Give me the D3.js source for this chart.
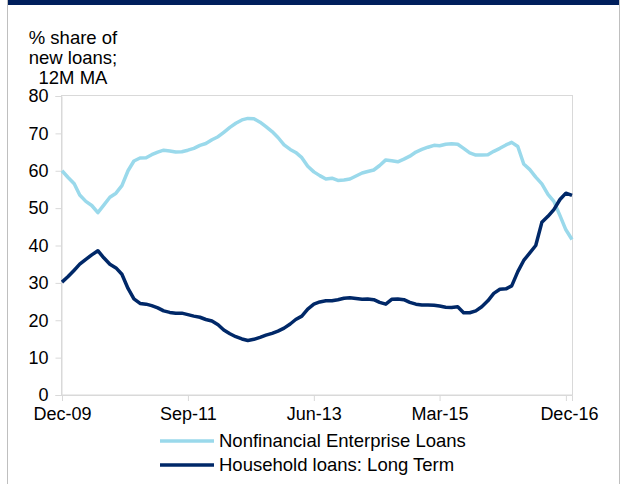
<!DOCTYPE html>
<html>
<head>
<meta charset="utf-8">
<script src="https://cdn.jsdelivr.net/npm/d3@7"></script>
<style>
  body { margin: 0; background: #fff; }
  svg text { font-family: "Liberation Sans", Arial, sans-serif; fill: #000; }
</style>
</head>
<body>
<svg id="chart" width="621" height="484"></svg>
<script>
// monthly, Dec-09 .. Jan-17
var startMonth = new Date(2009, 11, 1);
var nfeLoans = [60.0, 58.2, 56.5, 53.5, 51.8, 50.7, 48.8, 50.8, 52.9, 54.0,
  56.0, 60.0, 62.6, 63.4, 63.5, 64.3, 65.0, 65.5, 65.3, 65.0,
  65.1, 65.5, 66.0, 66.8, 67.3, 68.3, 69.1, 70.3, 71.6, 72.7,
  73.6, 74.0, 73.9, 73.0, 71.8, 70.5, 68.9, 66.9, 65.7, 64.9,
  63.5, 61.2, 59.7, 58.7, 57.8, 58.0, 57.4, 57.5, 57.8, 58.6,
  59.4, 59.8, 60.2, 61.4, 62.9, 62.7, 62.4, 63.1, 63.9, 65.0,
  65.7, 66.3, 66.8, 66.7, 67.1, 67.2, 67.1, 66.0, 64.8, 64.2,
  64.2, 64.3, 65.2, 66.0, 66.9, 67.6, 66.5, 61.8, 60.3, 58.3,
  56.5, 53.7, 51.8, 48.0, 44.2, 41.6];
var householdLT = [30.2, 31.7, 33.4, 35.0, 36.3, 37.5, 38.6, 36.7, 35.0, 34.0,
  32.3, 28.5, 25.7, 24.5, 24.3, 23.9, 23.3, 22.5, 22.1, 21.9,
  21.9, 21.5, 21.1, 20.8, 20.2, 19.8, 18.8, 17.4, 16.4, 15.6,
  15.0, 14.6, 14.9, 15.4, 16.0, 16.5, 17.1, 17.9, 19.0, 20.2,
  21.1, 23.0, 24.3, 24.9, 25.2, 25.2, 25.5, 25.9, 26.0, 25.8,
  25.6, 25.7, 25.5, 24.8, 24.3, 25.6, 25.7, 25.5, 24.8, 24.3,
  24.1, 24.1, 24.0, 23.8, 23.5, 23.4, 23.6, 22.0, 22.0, 22.5,
  23.6, 25.2, 27.2, 28.3, 28.4, 29.2, 33.0, 36.0, 38.0, 40.0,
  46.2, 47.8, 49.6, 52.3, 54.0, 53.4];
var seriesNames = ["Nonfinancial Enterprise Loans", "Household loans: Long Term"];
var seriesColors = ["#9ad9eb", "#002868"];
var yTicks = [0, 10, 20, 30, 40, 50, 60, 70, 80];
var xTickDates = [new Date(2009, 11, 1), new Date(2011, 8, 1), new Date(2013, 5, 1), new Date(2015, 2, 1), new Date(2016, 11, 1)];
var axisTitle = ["% share of", "new loans;", "12M MA"];

var svg = d3.select("#chart");
var fmt = d3.timeFormat("%b-%y");

// frame / header bar
svg.append("line").attr("x1", 7.5).attr("x2", 7.5).attr("y1", 0).attr("y2", 484)
  .attr("stroke", "#bfbfbf").attr("stroke-width", 1);
svg.append("line").attr("x1", 619.5).attr("x2", 619.5).attr("y1", 0).attr("y2", 484)
  .attr("stroke", "#bfbfbf").attr("stroke-width", 1);
svg.append("rect").attr("x", 8).attr("y", 0).attr("width", 611).attr("height", 5)
  .attr("fill", "#001f5c");

var dates = nfeLoans.map(function(d, i) { return d3.timeMonth.offset(startMonth, i); });

var x = d3.scaleTime()
  .domain([dates[0], dates[dates.length - 1]])
  .range([62, 572]);
var y = d3.scaleLinear().domain([0, 80]).range([395, 96]);

// plot frame
svg.append("rect").attr("x", 61.5).attr("y", 95.5).attr("width", 511).attr("height", 299.5)
  .attr("fill", "none").attr("stroke", "#d9d9d9");

var yAxis = svg.append("g").attr("transform", "translate(61.5,0)")
  .call(d3.axisLeft(y).tickValues(yTicks).tickSize(6).tickPadding(7));
var xAxis = svg.append("g").attr("transform", "translate(0,395)")
  .call(d3.axisBottom(x).tickValues(xTickDates).tickSize(6).tickPadding(6).tickFormat(fmt));
[yAxis, xAxis].forEach(function(g) {
  g.select(".domain").attr("stroke", "#d9d9d9");
  g.selectAll(".tick line").attr("stroke", "#d9d9d9");
  g.selectAll("text").style("font-size", "18px")
    .style("font-family", '"Liberation Sans", Arial, sans-serif').attr("fill", "#000");
});
xAxis.selectAll(".tick text").attr("dx", function(d, i) { return i === xTickDates.length - 1 ? 3 : 0; });

// axis title
svg.append("text").attr("x", 73).attr("y", 44).attr("text-anchor", "middle")
  .style("font-size", "18.5px")
  .selectAll("tspan").data(axisTitle).enter().append("tspan")
  .attr("x", 73).attr("dy", function(d, i) { return i ? 20 : 0; })
  .text(function(d) { return d; });

var line = d3.line()
  .x(function(d, i) { return x(dates[i]); })
  .y(function(d) { return y(d); });

[nfeLoans, householdLT].forEach(function(s, k) {
  svg.append("path").datum(s)
    .attr("d", line)
    .attr("fill", "none")
    .attr("stroke", seriesColors[k])
    .attr("stroke-width", 3.5)
    .attr("stroke-linejoin", "round");
});

// legend
var legend = svg.selectAll(".legend").data(seriesNames).enter().append("g")
  .attr("transform", function(d, i) { return "translate(160," + (441 + i * 24) + ")"; });
legend.append("line").attr("x1", 0).attr("x2", 54)
  .attr("stroke", function(d, i) { return seriesColors[i]; })
  .attr("stroke-width", 3.5);
legend.append("text").attr("x", 59).attr("dy", "0.35em")
  .style("font-size", "18.5px")
  .text(function(d) { return d; });
</script>
</body>
</html>
